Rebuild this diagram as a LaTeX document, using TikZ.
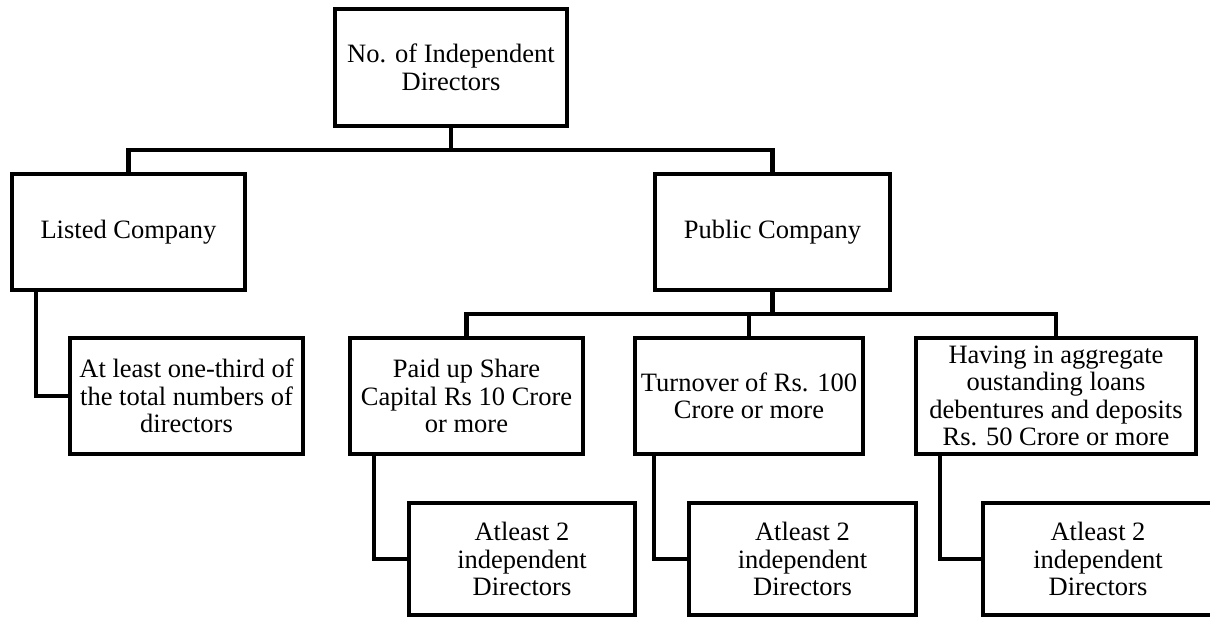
\documentclass[tikz,border=0pt]{standalone}
\usepackage{fontspec}
\setmainfont{Liberation Serif}
\begin{document}
\begin{tikzpicture}[x=1pt,y=-1pt,
  box/.style={draw, line width=4.5pt, inner sep=0pt, outer sep=0pt, align=center,
    font=\fontsize{26.5}{27.5}\selectfont},
  link/.style={line width=4.5pt}]
\path[use as bounding box, clip] (0,0) rectangle (1210,619);
\node[box, minimum width=232pt, minimum height=117pt] (top) at (451,67.5) {No. of Independent\\Directors};
\node[box, minimum width=233pt, minimum height=116pt] (listed) at (128.5,232) {Listed Company};
\node[box, minimum width=235pt, minimum height=116pt] (public) at (772.5,232) {Public Company};
\node[box, minimum width=233pt, minimum height=116pt] (third) at (186.5,396) {At least one-third of\\the total numbers of\\directors};
\node[box, minimum width=233pt, minimum height=116pt] (paid) at (466.5,396) {Paid up Share\\Capital Rs 10 Crore\\or more};
\node[box, minimum width=228pt, minimum height=116pt] (turn) at (749,396) {Turnover of Rs. 100\\Crore or more};
\node[box, minimum width=280pt, minimum height=116pt] (having) at (1056,396) {Having in aggregate\\oustanding loans\\debentures and deposits\\Rs. 50 Crore or more};
\node[box, minimum width=226pt, minimum height=112pt] (a1) at (522,559) {Atleast 2\\independent\\Directors};
\node[box, minimum width=227pt, minimum height=112pt] (a2) at (802.5,559) {Atleast 2\\independent\\Directors};
\node[box, minimum width=230pt, minimum height=112pt] (a3) at (1098,559) {Atleast 2\\independent\\Directors};
\draw[link] (top.south) -- ++(0,24) -| (listed.north);
\draw[link] (top.south) -- ++(0,24) -| (public.north);
\draw[link] (public.south) -- ++(0,24) -| (paid.north);
\draw[link] (public.south) -- ++(0,24) -| (turn.north);
\draw[link] (public.south) -- ++(0,24) -| (having.north);
\draw[link] ([xshift=-92.5pt]listed.south) |- (third.west);
\draw[link] ([xshift=-92.5pt]paid.south) |- (a1.west);
\draw[link] ([xshift=-95pt]turn.south) |- (a2.west);
\draw[link] ([xshift=-116pt]having.south) |- (a3.west);
\end{tikzpicture}
\end{document}
